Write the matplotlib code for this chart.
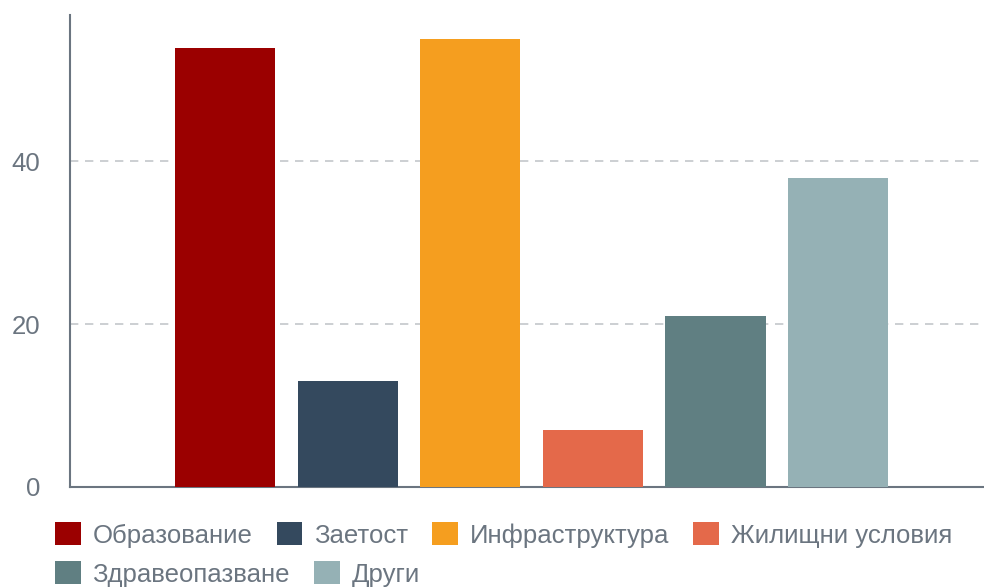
import matplotlib
import matplotlib.pyplot as plt
from matplotlib.patches import Patch

matplotlib.rcParams['font.family'] = ['Liberation Sans', 'DejaVu Sans']

categories = ['Образование', 'Заетост', 'Инфраструктура', 'Жилищни условия',
              'Здравеопазване', 'Други']
values = [54, 13, 55, 7, 21, 38]
colors = ['#9b0000', '#34495e', '#f59e1f', '#e4694a', '#607f82', '#95b1b5']
yticks = [0, 20, 40]

text_col = '#6b7580'
axis_col = '#6b7580'

fig = plt.figure(figsize=(9.84, 5.88), dpi=100)
ax = fig.add_axes([70 / 984, 1 - 487 / 588, 1 - 70 / 984, (487 - 15) / 588])

x = list(range(len(categories)))
ax.bar(x, values, width=0.816, color=colors, zorder=3)
ax.set_xlim(-1.265, 6.19)
ax.set_ylim(0, 58)

ax.set_yticks(yticks)
ax.set_yticklabels([str(t) for t in yticks])
ax.set_xticks([])
ax.tick_params(axis='y', length=0, pad=21.6, labelsize=18.5, labelcolor=text_col)

ax.grid(axis='y', color='#c3c7cb', linestyle=(0, (5, 4)), linewidth=1.2, zorder=0)
for t, gl in zip(yticks, ax.get_ygridlines()):
    if t == 0:
        gl.set_visible(False)

for s in ['top', 'right']:
    ax.spines[s].set_visible(False)
ax.spines['left'].set_color(axis_col)
ax.spines['bottom'].set_color(axis_col)
ax.spines['left'].set_linewidth(1.5)
ax.spines['bottom'].set_linewidth(1.5)

handles = [Patch(facecolor=c, edgecolor='none') for c in colors]
leg_kw = dict(frameon=False, fontsize=18.5, labelcolor=text_col, handlelength=1.0,
              handleheight=1.0, handletextpad=0.45, columnspacing=0.95,
              borderaxespad=0, borderpad=0)
leg1 = fig.legend(handles[:4], categories[:4], ncol=4, loc='center left',
                  bbox_to_anchor=(55 / 984, 1 - 535 / 588), **leg_kw)
leg2 = fig.legend(handles[4:], categories[4:], ncol=2, loc='center left',
                  bbox_to_anchor=(55 / 984, 1 - 574 / 588), **leg_kw)

fig.savefig('out.png', dpi=100)
